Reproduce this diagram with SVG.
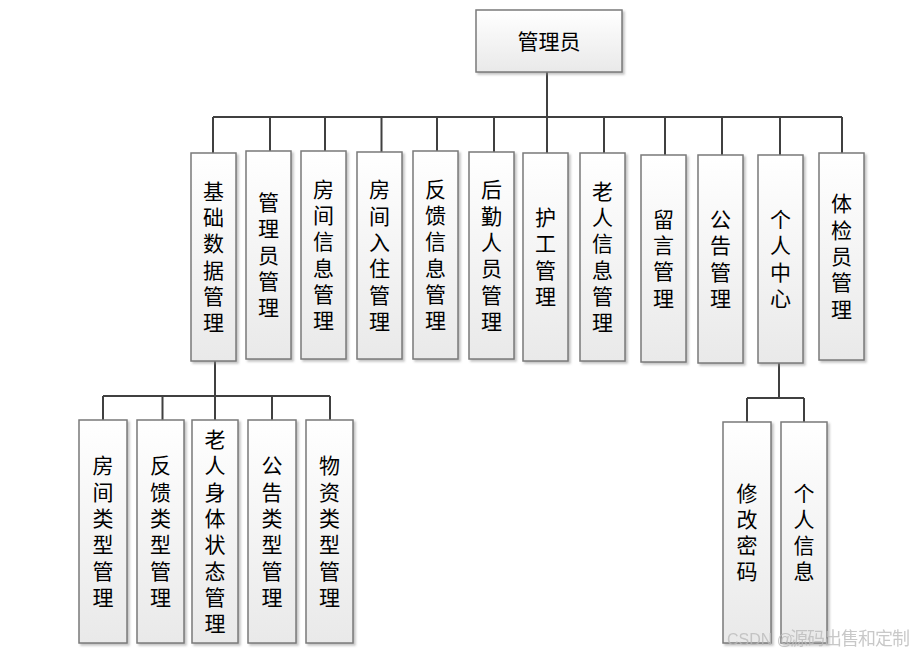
<svg xmlns="http://www.w3.org/2000/svg" width="920" height="655" viewBox="0 0 920 655">
<defs>
<linearGradient id="g" x1="0" y1="0" x2="0" y2="1">
<stop offset="0" stop-color="#ffffff"/>
<stop offset="1" stop-color="#e9e9e9"/>
</linearGradient>
<filter id="sh" x="-20%" y="-20%" width="140%" height="140%">
<feDropShadow dx="2" dy="2" stdDeviation="1" flood-color="#888" flood-opacity="0.5"/>
</filter>
</defs>
<style>
.box{fill:url(#g);stroke:#7a7a7a;stroke-width:1.5;filter:url(#sh)}
.t{font-family:"Liberation Sans","Noto Sans CJK SC",sans-serif;font-size:21px;fill:#000;text-anchor:middle;dominant-baseline:central}
.ln{fill:none;stroke:#404040;stroke-width:2}
.wm{font-family:"Liberation Sans","Noto Sans CJK SC",sans-serif;font-size:16px;fill:#bbbbbb;opacity:0.8}
</style>
<rect width="920" height="655" fill="#ffffff"/>
<g id="connectors">
<path class="ln" d="M547,72 V117 M213,117 H842 M213,117 V153 M270,117 V151 M325,117 V151 M381.5,117 V152 M437,117 V151 M494,117 V152 M547,117 V153 M604,117 V153 M665,117 V155 M722,117 V155 M780,117 V155 M842,117 V153"/>
<path class="ln" d="M215,361 V396 M103,396 H330 M103,396 V420 M162.5,396 V420 M215,396 V420 M272,396 V420 M330,396 V420"/>
<path class="ln" d="M779,363 V398 M747,398 H804 M747,398 V422 M804,398 V422"/>
</g>
<g id="root"><rect class="box" x="476" y="10" width="146" height="62"/><text class="t" x="549" y="41">管理员</text></g>
<g id="n1"><rect class="box" x="191" y="153" width="45" height="208"/><text class="t" x="213.5" y="191.3">基</text><text class="t" x="213.5" y="217.6">础</text><text class="t" x="213.5" y="243.9">数</text><text class="t" x="213.5" y="270.2">据</text><text class="t" x="213.5" y="296.5">管</text><text class="t" x="213.5" y="322.8">理</text></g>
<g id="n2"><rect class="box" x="246" y="151" width="45" height="208"/><text class="t" x="268.5" y="202.4">管</text><text class="t" x="268.5" y="228.7">理</text><text class="t" x="268.5" y="255">员</text><text class="t" x="268.5" y="281.3">管</text><text class="t" x="268.5" y="307.6">理</text></g>
<g id="n3"><rect class="box" x="301" y="151" width="45" height="208"/><text class="t" x="323.5" y="189.3">房</text><text class="t" x="323.5" y="215.6">间</text><text class="t" x="323.5" y="241.9">信</text><text class="t" x="323.5" y="268.2">息</text><text class="t" x="323.5" y="294.5">管</text><text class="t" x="323.5" y="320.8">理</text></g>
<g id="n4"><rect class="box" x="357" y="152" width="45" height="207"/><text class="t" x="379.5" y="189.8">房</text><text class="t" x="379.5" y="216.1">间</text><text class="t" x="379.5" y="242.4">入</text><text class="t" x="379.5" y="268.7">住</text><text class="t" x="379.5" y="295">管</text><text class="t" x="379.5" y="321.3">理</text></g>
<g id="n5"><rect class="box" x="413" y="151" width="45" height="208"/><text class="t" x="435.5" y="189.3">反</text><text class="t" x="435.5" y="215.6">馈</text><text class="t" x="435.5" y="241.9">信</text><text class="t" x="435.5" y="268.2">息</text><text class="t" x="435.5" y="294.5">管</text><text class="t" x="435.5" y="320.8">理</text></g>
<g id="n6"><rect class="box" x="469" y="152" width="45" height="207"/><text class="t" x="491.5" y="189.8">后</text><text class="t" x="491.5" y="216.1">勤</text><text class="t" x="491.5" y="242.4">人</text><text class="t" x="491.5" y="268.7">员</text><text class="t" x="491.5" y="295">管</text><text class="t" x="491.5" y="321.3">理</text></g>
<g id="n7"><rect class="box" x="523" y="153" width="45" height="208"/><text class="t" x="545.5" y="217.6">护</text><text class="t" x="545.5" y="243.9">工</text><text class="t" x="545.5" y="270.2">管</text><text class="t" x="545.5" y="296.5">理</text></g>
<g id="n8"><rect class="box" x="580" y="153" width="45" height="208"/><text class="t" x="602.5" y="191.3">老</text><text class="t" x="602.5" y="217.6">人</text><text class="t" x="602.5" y="243.9">信</text><text class="t" x="602.5" y="270.2">息</text><text class="t" x="602.5" y="296.5">管</text><text class="t" x="602.5" y="322.8">理</text></g>
<g id="n9"><rect class="box" x="641" y="155" width="45" height="207"/><text class="t" x="663.5" y="219.1">留</text><text class="t" x="663.5" y="245.4">言</text><text class="t" x="663.5" y="271.7">管</text><text class="t" x="663.5" y="298">理</text></g>
<g id="n10"><rect class="box" x="698" y="155" width="45" height="208"/><text class="t" x="720.5" y="219.6">公</text><text class="t" x="720.5" y="245.9">告</text><text class="t" x="720.5" y="272.2">管</text><text class="t" x="720.5" y="298.5">理</text></g>
<g id="n11"><rect class="box" x="758" y="155" width="45" height="208"/><text class="t" x="780.5" y="219.6">个</text><text class="t" x="780.5" y="245.9">人</text><text class="t" x="780.5" y="272.2">中</text><text class="t" x="780.5" y="298.5">心</text></g>
<g id="n12"><rect class="box" x="819" y="153" width="45" height="207"/><text class="t" x="841.5" y="203.9">体</text><text class="t" x="841.5" y="230.2">检</text><text class="t" x="841.5" y="256.5">员</text><text class="t" x="841.5" y="282.8">管</text><text class="t" x="841.5" y="309.1">理</text></g>
<g id="s1"><rect class="box" x="79" y="420" width="48" height="223"/><text class="t" x="103" y="465.8">房</text><text class="t" x="103" y="492.1">间</text><text class="t" x="103" y="518.4">类</text><text class="t" x="103" y="544.7">型</text><text class="t" x="103" y="571">管</text><text class="t" x="103" y="597.3">理</text></g>
<g id="s2"><rect class="box" x="137" y="420" width="47" height="223"/><text class="t" x="160.5" y="465.8">反</text><text class="t" x="160.5" y="492.1">馈</text><text class="t" x="160.5" y="518.4">类</text><text class="t" x="160.5" y="544.7">型</text><text class="t" x="160.5" y="571">管</text><text class="t" x="160.5" y="597.3">理</text></g>
<g id="s3"><rect class="box" x="192" y="420" width="46" height="223"/><text class="t" x="215" y="439.5">老</text><text class="t" x="215" y="465.8">人</text><text class="t" x="215" y="492.1">身</text><text class="t" x="215" y="518.4">体</text><text class="t" x="215" y="544.7">状</text><text class="t" x="215" y="571">态</text><text class="t" x="215" y="597.3">管</text><text class="t" x="215" y="623.6">理</text></g>
<g id="s4"><rect class="box" x="248" y="420" width="48" height="223"/><text class="t" x="272" y="465.8">公</text><text class="t" x="272" y="492.1">告</text><text class="t" x="272" y="518.4">类</text><text class="t" x="272" y="544.7">型</text><text class="t" x="272" y="571">管</text><text class="t" x="272" y="597.3">理</text></g>
<g id="s5"><rect class="box" x="306" y="420" width="47" height="223"/><text class="t" x="329.5" y="465.8">物</text><text class="t" x="329.5" y="492.1">资</text><text class="t" x="329.5" y="518.4">类</text><text class="t" x="329.5" y="544.7">型</text><text class="t" x="329.5" y="571">管</text><text class="t" x="329.5" y="597.3">理</text></g>
<g id="p1"><rect class="box" x="723" y="422" width="48" height="221"/><text class="t" x="747" y="493.1">修</text><text class="t" x="747" y="519.4">改</text><text class="t" x="747" y="545.6">密</text><text class="t" x="747" y="571.9">码</text></g>
<g id="p2"><rect class="box" x="781" y="422" width="46" height="221"/><text class="t" x="804" y="493.1">个</text><text class="t" x="804" y="519.4">人</text><text class="t" x="804" y="545.6">信</text><text class="t" x="804" y="571.9">息</text></g>
<text class="wm" x="727" y="645">CSDN @<tspan x="790" font-size="18" textLength="120" lengthAdjust="spacing">源码出售和定制</tspan></text>
</svg>
